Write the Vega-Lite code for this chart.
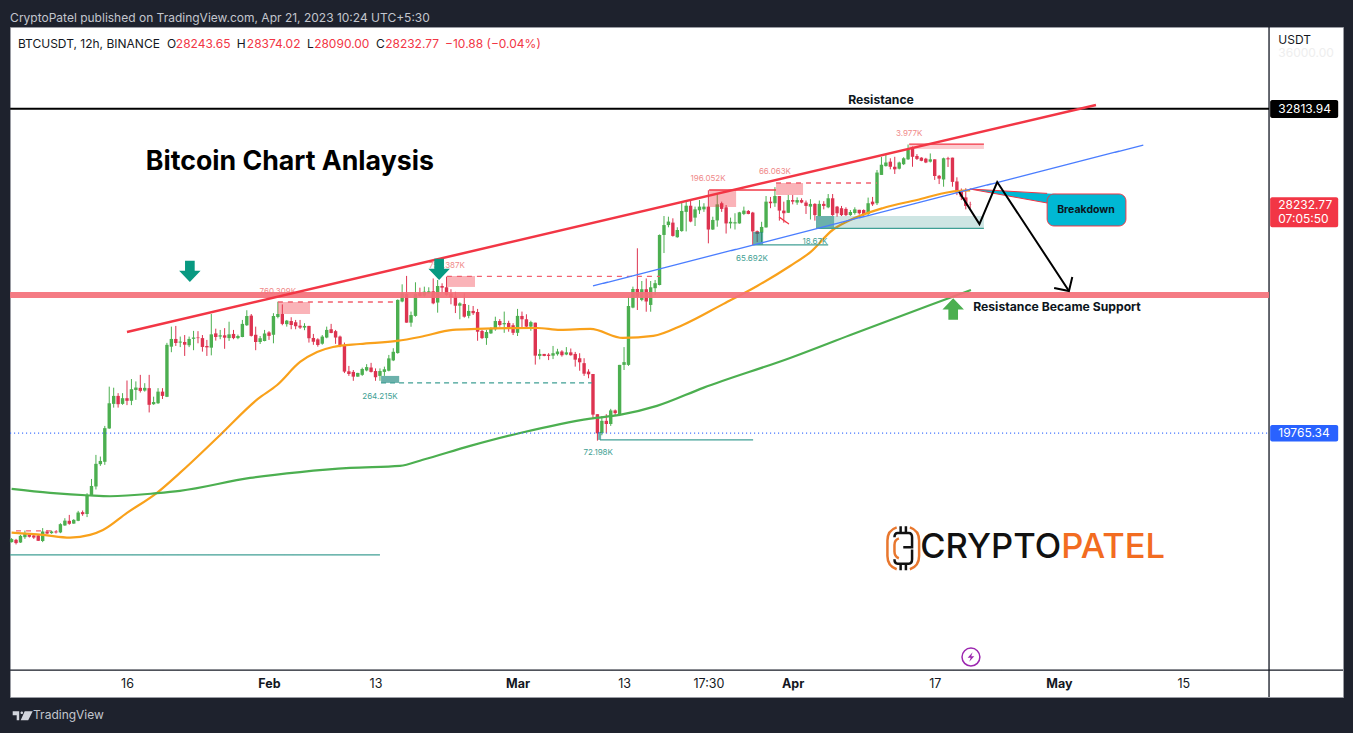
{
  "$schema": "https://vega.github.io/schema/vega-lite/v6.json",
  "description": "BTCUSDT 12h candles with hand drawn TradingView annotations",
  "autosize": {"type": "none"},
  "padding": {"left": 10, "top": 27, "right": 10, "bottom": 36},
  "width": 1333,
  "height": 670,
  "background": "#1e222d",
  "config": {
    "font": "Inter",
    "view": {"fill": "#ffffff", "stroke": "#9a9ca3"},
    "axis": {"grid": false, "domain": false, "ticks": false, "title": null}
  },
  "resolve": {"scale": {"color": "independent", "strokeDash": "independent"}},
  "datasets": {
    "candles": [
      {"t":"2023-01-03T00:00Z","o":16670,"h":16775,"l":16660,"c":16750},
      {"t":"2023-01-03T12:00Z","o":16730,"h":16755,"l":16610,"c":16645},
      {"t":"2023-01-04T00:00Z","o":16660,"h":16860,"l":16650,"c":16835},
      {"t":"2023-01-04T12:00Z","o":16800,"h":16975,"l":16755,"c":16890},
      {"t":"2023-01-05T00:00Z","o":16860,"h":16905,"l":16790,"c":16810},
      {"t":"2023-01-05T12:00Z","o":16845,"h":16880,"l":16755,"c":16790},
      {"t":"2023-01-06T00:00Z","o":16845,"h":16880,"l":16700,"c":16705},
      {"t":"2023-01-06T12:00Z","o":16700,"h":17040,"l":16670,"c":16950},
      {"t":"2023-01-07T00:00Z","o":16950,"h":16990,"l":16880,"c":16895},
      {"t":"2023-01-07T12:00Z","o":16905,"h":16975,"l":16890,"c":16950},
      {"t":"2023-01-08T00:00Z","o":16950,"h":16975,"l":16895,"c":16925},
      {"t":"2023-01-08T12:00Z","o":16925,"h":17170,"l":16905,"c":17145},
      {"t":"2023-01-09T00:00Z","o":17110,"h":17305,"l":17100,"c":17240},
      {"t":"2023-01-09T12:00Z","o":17235,"h":17395,"l":17130,"c":17155},
      {"t":"2023-01-10T00:00Z","o":17160,"h":17280,"l":17155,"c":17260},
      {"t":"2023-01-10T12:00Z","o":17235,"h":17505,"l":17225,"c":17460},
      {"t":"2023-01-11T00:00Z","o":17470,"h":17515,"l":17370,"c":17415},
      {"t":"2023-01-11T12:00Z","o":17420,"h":17995,"l":17335,"c":17920},
      {"t":"2023-01-12T00:00Z","o":17940,"h":18400,"l":17920,"c":18200},
      {"t":"2023-01-12T12:00Z","o":18185,"h":19105,"l":18100,"c":18840},
      {"t":"2023-01-13T00:00Z","o":18830,"h":19055,"l":18780,"c":18925},
      {"t":"2023-01-13T12:00Z","o":18900,"h":19990,"l":18810,"c":19920},
      {"t":"2023-01-14T00:00Z","o":19910,"h":21255,"l":19900,"c":20710},
      {"t":"2023-01-14T12:00Z","o":20690,"h":21220,"l":20570,"c":20950},
      {"t":"2023-01-15T00:00Z","o":20950,"h":21040,"l":20570,"c":20680},
      {"t":"2023-01-15T12:00Z","o":20690,"h":21040,"l":20660,"c":20875},
      {"t":"2023-01-16T00:00Z","o":20875,"h":21460,"l":20650,"c":20790},
      {"t":"2023-01-16T12:00Z","o":20790,"h":21510,"l":20650,"c":21170},
      {"t":"2023-01-17T00:00Z","o":21145,"h":21430,"l":20820,"c":21225},
      {"t":"2023-01-17T12:00Z","o":21215,"h":21650,"l":21060,"c":21115},
      {"t":"2023-01-18T00:00Z","o":21125,"h":21370,"l":21090,"c":21215},
      {"t":"2023-01-18T12:00Z","o":21205,"h":21650,"l":20415,"c":20660},
      {"t":"2023-01-19T00:00Z","o":20680,"h":20925,"l":20660,"c":20750},
      {"t":"2023-01-19T12:00Z","o":20710,"h":21205,"l":20690,"c":21090},
      {"t":"2023-01-20T00:00Z","o":21090,"h":21205,"l":20850,"c":20950},
      {"t":"2023-01-20T12:00Z","o":20920,"h":22760,"l":20910,"c":22690},
      {"t":"2023-01-21T00:00Z","o":22625,"h":23345,"l":22430,"c":22900},
      {"t":"2023-01-21T12:00Z","o":22900,"h":23370,"l":22650,"c":22755},
      {"t":"2023-01-22T00:00Z","o":22770,"h":22985,"l":22610,"c":22805},
      {"t":"2023-01-22T12:00Z","o":22790,"h":23040,"l":22300,"c":22695},
      {"t":"2023-01-23T00:00Z","o":22675,"h":22985,"l":22610,"c":22900},
      {"t":"2023-01-23T12:00Z","o":22905,"h":23190,"l":22500,"c":22950},
      {"t":"2023-01-24T00:00Z","o":22950,"h":23180,"l":22745,"c":22930},
      {"t":"2023-01-24T12:00Z","o":22930,"h":23040,"l":22450,"c":22615},
      {"t":"2023-01-25T00:00Z","o":22650,"h":22865,"l":22300,"c":22600},
      {"t":"2023-01-25T12:00Z","o":22590,"h":23810,"l":22320,"c":23065},
      {"t":"2023-01-26T00:00Z","o":23100,"h":23270,"l":22840,"c":22970},
      {"t":"2023-01-26T12:00Z","o":22985,"h":23225,"l":22890,"c":23030},
      {"t":"2023-01-27T00:00Z","o":23030,"h":23290,"l":22550,"c":22945},
      {"t":"2023-01-27T12:00Z","o":22930,"h":23525,"l":22830,"c":23065},
      {"t":"2023-01-28T00:00Z","o":23080,"h":23225,"l":22890,"c":22930},
      {"t":"2023-01-28T12:00Z","o":22930,"h":23055,"l":22890,"c":23005},
      {"t":"2023-01-29T00:00Z","o":22970,"h":23590,"l":22960,"c":23445},
      {"t":"2023-01-29T12:00Z","o":23395,"h":23950,"l":23370,"c":23735},
      {"t":"2023-01-30T00:00Z","o":23750,"h":23810,"l":22985,"c":23010},
      {"t":"2023-01-30T12:00Z","o":23050,"h":23345,"l":22500,"c":22790},
      {"t":"2023-01-31T00:00Z","o":22790,"h":23005,"l":22720,"c":22925},
      {"t":"2023-01-31T12:00Z","o":22825,"h":23225,"l":22815,"c":23100},
      {"t":"2023-02-01T00:00Z","o":23135,"h":23180,"l":22865,"c":23010},
      {"t":"2023-02-01T12:00Z","o":23050,"h":23840,"l":22745,"c":23735},
      {"t":"2023-02-02T00:00Z","o":23700,"h":24270,"l":23650,"c":23810},
      {"t":"2023-02-02T12:00Z","o":23810,"h":24170,"l":23395,"c":23445},
      {"t":"2023-02-03T00:00Z","o":23435,"h":23590,"l":23345,"c":23565},
      {"t":"2023-02-03T12:00Z","o":23550,"h":23690,"l":23250,"c":23405},
      {"t":"2023-02-04T00:00Z","o":23505,"h":23590,"l":23250,"c":23360},
      {"t":"2023-02-04T12:00Z","o":23380,"h":23590,"l":23260,"c":23310},
      {"t":"2023-02-05T00:00Z","o":23310,"h":23470,"l":23215,"c":23370},
      {"t":"2023-02-05T12:00Z","o":23370,"h":23375,"l":22770,"c":22925},
      {"t":"2023-02-06T00:00Z","o":22935,"h":23080,"l":22690,"c":22800},
      {"t":"2023-02-06T12:00Z","o":22885,"h":22925,"l":22625,"c":22685},
      {"t":"2023-02-07T00:00Z","o":22730,"h":23040,"l":22695,"c":22985},
      {"t":"2023-02-07T12:00Z","o":22950,"h":23345,"l":22925,"c":23225},
      {"t":"2023-02-08T00:00Z","o":23250,"h":23445,"l":23105,"c":23115},
      {"t":"2023-02-08T12:00Z","o":23180,"h":23225,"l":22725,"c":22950},
      {"t":"2023-02-09T00:00Z","o":22985,"h":23020,"l":22605,"c":22650},
      {"t":"2023-02-09T12:00Z","o":22650,"h":22770,"l":21710,"c":21760},
      {"t":"2023-02-10T00:00Z","o":21770,"h":21955,"l":21615,"c":21680},
      {"t":"2023-02-10T12:00Z","o":21750,"h":21815,"l":21450,"c":21590},
      {"t":"2023-02-11T00:00Z","o":21590,"h":21720,"l":21585,"c":21715},
      {"t":"2023-02-11T12:00Z","o":21650,"h":21895,"l":21615,"c":21850},
      {"t":"2023-02-12T00:00Z","o":21800,"h":22015,"l":21770,"c":21915},
      {"t":"2023-02-12T12:00Z","o":21900,"h":22060,"l":21730,"c":21750},
      {"t":"2023-02-13T00:00Z","o":21780,"h":21870,"l":21450,"c":21570},
      {"t":"2023-02-13T12:00Z","o":21615,"h":21870,"l":21450,"c":21780},
      {"t":"2023-02-14T00:00Z","o":21750,"h":21930,"l":21615,"c":21840},
      {"t":"2023-02-14T12:00Z","o":21790,"h":22335,"l":21770,"c":22215},
      {"t":"2023-02-15T00:00Z","o":22145,"h":22570,"l":22120,"c":22445},
      {"t":"2023-02-15T12:00Z","o":22400,"h":24360,"l":22380,"c":24340},
      {"t":"2023-02-16T00:00Z","o":24280,"h":24940,"l":24250,"c":24595},
      {"t":"2023-02-16T12:00Z","o":24565,"h":25270,"l":23490,"c":23490},
      {"t":"2023-02-17T00:00Z","o":23490,"h":23900,"l":23340,"c":23770},
      {"t":"2023-02-17T12:00Z","o":23740,"h":25020,"l":23710,"c":24570},
      {"t":"2023-02-18T00:00Z","o":24620,"h":24810,"l":24465,"c":24490},
      {"t":"2023-02-18T12:00Z","o":24505,"h":24850,"l":24465,"c":24655},
      {"t":"2023-02-19T00:00Z","o":24595,"h":24825,"l":24570,"c":24670},
      {"t":"2023-02-19T12:00Z","o":24670,"h":25170,"l":24175,"c":24210},
      {"t":"2023-02-20T00:00Z","o":24240,"h":25110,"l":23860,"c":24875},
      {"t":"2023-02-20T12:00Z","o":24875,"h":24980,"l":24620,"c":24810},
      {"t":"2023-02-21T00:00Z","o":24825,"h":25240,"l":24500,"c":24530},
      {"t":"2023-02-21T12:00Z","o":24590,"h":24750,"l":24175,"c":24440},
      {"t":"2023-02-22T00:00Z","o":24465,"h":24650,"l":23845,"c":24120},
      {"t":"2023-02-22T12:00Z","o":24120,"h":24250,"l":23615,"c":24210},
      {"t":"2023-02-23T00:00Z","o":24185,"h":24590,"l":23675,"c":23710},
      {"t":"2023-02-23T12:00Z","o":23740,"h":24150,"l":23650,"c":23925},
      {"t":"2023-02-24T00:00Z","o":23925,"h":24110,"l":23775,"c":23840},
      {"t":"2023-02-24T12:00Z","o":23885,"h":24000,"l":22835,"c":23160},
      {"t":"2023-02-25T00:00Z","o":23190,"h":23225,"l":22895,"c":22930},
      {"t":"2023-02-25T12:00Z","o":22930,"h":23225,"l":22690,"c":23150},
      {"t":"2023-02-26T00:00Z","o":23100,"h":23320,"l":23080,"c":23270},
      {"t":"2023-02-26T12:00Z","o":23250,"h":23710,"l":23195,"c":23550},
      {"t":"2023-02-27T00:00Z","o":23550,"h":23620,"l":23345,"c":23405},
      {"t":"2023-02-27T12:00Z","o":23430,"h":23900,"l":23120,"c":23475},
      {"t":"2023-02-28T00:00Z","o":23480,"h":23560,"l":23160,"c":23310},
      {"t":"2023-02-28T12:00Z","o":23395,"h":23470,"l":23040,"c":23120},
      {"t":"2023-03-01T00:00Z","o":23120,"h":24000,"l":23005,"c":23740},
      {"t":"2023-03-01T12:00Z","o":23740,"h":23900,"l":23310,"c":23615},
      {"t":"2023-03-02T00:00Z","o":23615,"h":23800,"l":23320,"c":23345},
      {"t":"2023-03-02T12:00Z","o":23345,"h":23560,"l":23195,"c":23510},
      {"t":"2023-03-03T00:00Z","o":23490,"h":23490,"l":22000,"c":22310},
      {"t":"2023-03-03T12:00Z","o":22300,"h":22535,"l":22180,"c":22370},
      {"t":"2023-03-04T00:00Z","o":22370,"h":22370,"l":22290,"c":22300},
      {"t":"2023-03-04T12:00Z","o":22345,"h":22395,"l":22155,"c":22300},
      {"t":"2023-03-05T00:00Z","o":22310,"h":22650,"l":22190,"c":22395},
      {"t":"2023-03-05T12:00Z","o":22360,"h":22550,"l":22310,"c":22455},
      {"t":"2023-03-06T00:00Z","o":22455,"h":22500,"l":22275,"c":22325},
      {"t":"2023-03-06T12:00Z","o":22350,"h":22610,"l":22325,"c":22425},
      {"t":"2023-03-07T00:00Z","o":22425,"h":22560,"l":22310,"c":22325},
      {"t":"2023-03-07T12:00Z","o":22370,"h":22440,"l":21930,"c":22170},
      {"t":"2023-03-08T00:00Z","o":22220,"h":22395,"l":21790,"c":22080},
      {"t":"2023-03-08T12:00Z","o":22050,"h":22220,"l":21615,"c":21690},
      {"t":"2023-03-09T00:00Z","o":21760,"h":21840,"l":21535,"c":21670},
      {"t":"2023-03-09T12:00Z","o":21680,"h":21680,"l":20230,"c":20345},
      {"t":"2023-03-10T00:00Z","o":20360,"h":20360,"l":19535,"c":19760},
      {"t":"2023-03-10T12:00Z","o":19770,"h":20300,"l":19700,"c":20150},
      {"t":"2023-03-11T00:00Z","o":20150,"h":20360,"l":19760,"c":20050},
      {"t":"2023-03-11T12:00Z","o":20050,"h":20530,"l":19990,"c":20480},
      {"t":"2023-03-12T00:00Z","o":20480,"h":20510,"l":20305,"c":20395},
      {"t":"2023-03-12T12:00Z","o":20365,"h":21990,"l":20300,"c":21990},
      {"t":"2023-03-13T00:00Z","o":21990,"h":22610,"l":21815,"c":22085},
      {"t":"2023-03-13T12:00Z","o":21990,"h":24465,"l":21955,"c":24110},
      {"t":"2023-03-14T00:00Z","o":24050,"h":24850,"l":24025,"c":24760},
      {"t":"2023-03-14T12:00Z","o":24760,"h":26385,"l":23960,"c":24465},
      {"t":"2023-03-15T00:00Z","o":24340,"h":25070,"l":24290,"c":24750},
      {"t":"2023-03-15T12:00Z","o":24750,"h":25170,"l":23895,"c":24280},
      {"t":"2023-03-16T00:00Z","o":24150,"h":25070,"l":23895,"c":24825},
      {"t":"2023-03-16T12:00Z","o":24790,"h":25110,"l":24530,"c":24985},
      {"t":"2023-03-17T00:00Z","o":24915,"h":26960,"l":24900,"c":26940},
      {"t":"2023-03-17T12:00Z","o":26940,"h":27750,"l":26190,"c":27360},
      {"t":"2023-03-18T00:00Z","o":27360,"h":27720,"l":27265,"c":27510},
      {"t":"2023-03-18T12:00Z","o":27465,"h":27650,"l":26870,"c":26900},
      {"t":"2023-03-19T00:00Z","o":26845,"h":27265,"l":26825,"c":27150},
      {"t":"2023-03-19T12:00Z","o":27105,"h":28380,"l":27075,"c":27970},
      {"t":"2023-03-20T00:00Z","o":27930,"h":28430,"l":27090,"c":28200},
      {"t":"2023-03-20T12:00Z","o":28200,"h":28430,"l":27480,"c":27510},
      {"t":"2023-03-21T00:00Z","o":27680,"h":28160,"l":27320,"c":28040},
      {"t":"2023-03-21T12:00Z","o":28000,"h":28450,"l":27840,"c":28160},
      {"t":"2023-03-22T00:00Z","o":28040,"h":28310,"l":27930,"c":28160},
      {"t":"2023-03-22T12:00Z","o":28160,"h":28890,"l":26590,"c":27170},
      {"t":"2023-03-23T00:00Z","o":27170,"h":27720,"l":27150,"c":27580},
      {"t":"2023-03-23T12:00Z","o":27560,"h":28750,"l":27290,"c":28260},
      {"t":"2023-03-24T00:00Z","o":28310,"h":28380,"l":27930,"c":28060},
      {"t":"2023-03-24T12:00Z","o":28130,"h":28230,"l":27000,"c":27430},
      {"t":"2023-03-25T00:00Z","o":27430,"h":27680,"l":27215,"c":27500},
      {"t":"2023-03-25T12:00Z","o":27430,"h":27870,"l":27170,"c":27480},
      {"t":"2023-03-26T00:00Z","o":27430,"h":27930,"l":27420,"c":27910},
      {"t":"2023-03-26T12:00Z","o":27840,"h":28160,"l":27790,"c":27985},
      {"t":"2023-03-27T00:00Z","o":27970,"h":28010,"l":27825,"c":27840},
      {"t":"2023-03-27T12:00Z","o":27900,"h":27930,"l":26520,"c":27090},
      {"t":"2023-03-28T00:00Z","o":27100,"h":27130,"l":26640,"c":26985},
      {"t":"2023-03-28T12:00Z","o":27040,"h":27500,"l":26640,"c":27280},
      {"t":"2023-03-29T00:00Z","o":27260,"h":28630,"l":27250,"c":28380},
      {"t":"2023-03-29T12:00Z","o":28380,"h":28590,"l":28090,"c":28310},
      {"t":"2023-03-30T00:00Z","o":28310,"h":29030,"l":28150,"c":28630},
      {"t":"2023-03-30T12:00Z","o":28630,"h":28630,"l":27550,"c":27985},
      {"t":"2023-03-31T00:00Z","o":27985,"h":28380,"l":27460,"c":27870},
      {"t":"2023-03-31T12:00Z","o":27890,"h":28680,"l":27880,"c":28450},
      {"t":"2023-04-01T00:00Z","o":28450,"h":28680,"l":28260,"c":28380},
      {"t":"2023-04-01T12:00Z","o":28340,"h":28570,"l":28240,"c":28450},
      {"t":"2023-04-02T00:00Z","o":28450,"h":28530,"l":28310,"c":28340},
      {"t":"2023-04-02T12:00Z","o":28340,"h":28430,"l":27840,"c":28190},
      {"t":"2023-04-03T00:00Z","o":28160,"h":28490,"l":27600,"c":28280},
      {"t":"2023-04-03T12:00Z","o":28280,"h":28310,"l":27550,"c":27790},
      {"t":"2023-04-04T00:00Z","o":27750,"h":28430,"l":27740,"c":28280},
      {"t":"2023-04-04T12:00Z","o":28280,"h":28400,"l":28040,"c":28190},
      {"t":"2023-04-05T00:00Z","o":28130,"h":28720,"l":28090,"c":28530},
      {"t":"2023-04-05T12:00Z","o":28530,"h":28720,"l":27755,"c":27790},
      {"t":"2023-04-06T00:00Z","o":28160,"h":28190,"l":27720,"c":27870},
      {"t":"2023-04-06T12:00Z","o":28090,"h":28190,"l":27750,"c":27790},
      {"t":"2023-04-07T00:00Z","o":28060,"h":28130,"l":27750,"c":27790},
      {"t":"2023-04-07T12:00Z","o":27790,"h":28010,"l":27755,"c":27925},
      {"t":"2023-04-08T00:00Z","o":27880,"h":28130,"l":27810,"c":28040},
      {"t":"2023-04-08T12:00Z","o":28020,"h":28020,"l":27810,"c":27870},
      {"t":"2023-04-09T00:00Z","o":28010,"h":28040,"l":27720,"c":27790},
      {"t":"2023-04-09T12:00Z","o":27840,"h":28560,"l":27750,"c":28310},
      {"t":"2023-04-10T00:00Z","o":28380,"h":28590,"l":28190,"c":28260},
      {"t":"2023-04-10T12:00Z","o":28310,"h":29820,"l":28230,"c":29700},
      {"t":"2023-04-11T00:00Z","o":29590,"h":30440,"l":29590,"c":30065},
      {"t":"2023-04-11T12:00Z","o":30000,"h":30540,"l":29980,"c":30170},
      {"t":"2023-04-12T00:00Z","o":30210,"h":30370,"l":29850,"c":29970},
      {"t":"2023-04-12T12:00Z","o":29970,"h":30440,"l":29635,"c":29850},
      {"t":"2023-04-13T00:00Z","o":29880,"h":30210,"l":29845,"c":30170},
      {"t":"2023-04-13T12:00Z","o":30090,"h":30420,"l":30050,"c":30370},
      {"t":"2023-04-14T00:00Z","o":30320,"h":31030,"l":30290,"c":30800},
      {"t":"2023-04-14T12:00Z","o":30850,"h":30930,"l":29970,"c":30440},
      {"t":"2023-04-15T00:00Z","o":30480,"h":30570,"l":30290,"c":30340},
      {"t":"2023-04-15T12:00Z","o":30400,"h":30420,"l":30230,"c":30250},
      {"t":"2023-04-16T00:00Z","o":30350,"h":30390,"l":30140,"c":30170},
      {"t":"2023-04-16T12:00Z","o":30210,"h":30600,"l":30170,"c":30320},
      {"t":"2023-04-17T00:00Z","o":30320,"h":30320,"l":29360,"c":29540},
      {"t":"2023-04-17T12:00Z","o":29550,"h":29590,"l":29170,"c":29420},
      {"t":"2023-04-18T00:00Z","o":29380,"h":30400,"l":29050,"c":30370},
      {"t":"2023-04-18T12:00Z","o":30370,"h":30440,"l":29960,"c":30320},
      {"t":"2023-04-19T00:00Z","o":30400,"h":30400,"l":29050,"c":29270},
      {"t":"2023-04-19T12:00Z","o":29290,"h":29480,"l":28670,"c":28790},
      {"t":"2023-04-20T00:00Z","o":28860,"h":28970,"l":28450,"c":28600},
      {"t":"2023-04-20T12:00Z","o":28570,"h":28980,"l":28040,"c":28190},
      {"t":"2023-04-21T00:00Z","o":28243.65,"h":28374.02,"l":28090,"c":28232.77}
    ],
    "averages": [
      {"s":"ema50","t":"2023-01-03T00:00Z","p":16920},
      {"s":"ema50","t":"2023-01-06T13:00Z","p":16860},
      {"s":"ema50","t":"2023-01-09T14:00Z","p":16790},
      {"s":"ema50","t":"2023-01-11T20:00Z","p":16860},
      {"s":"ema50","t":"2023-01-13T07:00Z","p":16990},
      {"s":"ema50","t":"2023-01-16T00:00Z","p":17450},
      {"s":"ema50","t":"2023-01-19T09:00Z","p":18005},
      {"s":"ema50","t":"2023-01-21T23:00Z","p":18575},
      {"s":"ema50","t":"2023-01-26T12:00Z","p":19710},
      {"s":"ema50","t":"2023-01-30T18:00Z","p":20850},
      {"s":"ema50","t":"2023-02-01T22:00Z","p":21310},
      {"s":"ema50","t":"2023-02-04T12:00Z","p":22090},
      {"s":"ema50","t":"2023-02-06T10:00Z","p":22440},
      {"s":"ema50","t":"2023-02-08T05:00Z","p":22615},
      {"s":"ema50","t":"2023-02-11T06:00Z","p":22720},
      {"s":"ema50","t":"2023-02-15T10:00Z","p":22830},
      {"s":"ema50","t":"2023-02-18T00:00Z","p":22970},
      {"s":"ema50","t":"2023-02-21T17:00Z","p":23225},
      {"s":"ema50","t":"2023-02-24T10:00Z","p":23260},
      {"s":"ema50","t":"2023-03-03T05:00Z","p":23295},
      {"s":"ema50","t":"2023-03-05T19:00Z","p":23225},
      {"s":"ema50","t":"2023-03-09T05:00Z","p":23260},
      {"s":"ema50","t":"2023-03-12T21:00Z","p":22935},
      {"s":"ema50","t":"2023-03-16T07:00Z","p":23007},
      {"s":"ema50","t":"2023-03-19T15:00Z","p":23405},
      {"s":"ema50","t":"2023-03-24T05:00Z","p":24190},
      {"s":"ema50","t":"2023-03-28T00:00Z","p":24876},
      {"s":"ema50","t":"2023-03-31T17:00Z","p":25666},
      {"s":"ema50","t":"2023-04-03T00:00Z","p":26230},
      {"s":"ema50","t":"2023-04-05T12:00Z","p":27150},
      {"s":"ema50","t":"2023-04-07T03:00Z","p":27510},
      {"s":"ema50","t":"2023-04-11T05:00Z","p":28100},
      {"s":"ema50","t":"2023-04-15T00:00Z","p":28455},
      {"s":"ema50","t":"2023-04-18T17:00Z","p":28810},
      {"s":"ema50","t":"2023-04-21T00:00Z","p":28880},
      {"s":"ema200","t":"2023-01-03T00:00Z","p":18117},
      {"s":"ema200","t":"2023-01-07T08:00Z","p":18005},
      {"s":"ema200","t":"2023-01-11T20:00Z","p":17930},
      {"s":"ema200","t":"2023-01-14T02:00Z","p":17910},
      {"s":"ema200","t":"2023-01-19T09:00Z","p":17995},
      {"s":"ema200","t":"2023-01-21T23:00Z","p":18060},
      {"s":"ema200","t":"2023-01-29T21:00Z","p":18430},
      {"s":"ema200","t":"2023-02-04T12:00Z","p":18600},
      {"s":"ema200","t":"2023-02-10T03:00Z","p":18720},
      {"s":"ema200","t":"2023-02-15T18:00Z","p":18780},
      {"s":"ema200","t":"2023-02-18T08:00Z","p":18960},
      {"s":"ema200","t":"2023-02-23T16:00Z","p":19375},
      {"s":"ema200","t":"2023-03-01T07:00Z","p":19770},
      {"s":"ema200","t":"2023-03-09T05:00Z","p":20220},
      {"s":"ema200","t":"2023-03-12T12:00Z","p":20337},
      {"s":"ema200","t":"2023-03-16T17:00Z","p":20625},
      {"s":"ema200","t":"2023-03-21T22:00Z","p":21215},
      {"s":"ema200","t":"2023-03-31T17:00Z","p":22230},
      {"s":"ema200","t":"2023-04-07T12:00Z","p":23043},
      {"s":"ema200","t":"2023-04-16T12:00Z","p":24150},
      {"s":"ema200","t":"2023-04-21T02:00Z","p":24720}
    ],
    "zones": [
      {"kind":"supply","t":"2023-02-02T00:00Z","t2":"2023-02-05T15:00Z","p":24260,"p2":23812},
      {"kind":"supply","t":"2023-02-21T01:00Z","t2":"2023-02-24T05:00Z","p":25268,"p2":24838},
      {"kind":"supply","t":"2023-03-22T14:00Z","t2":"2023-03-25T15:00Z","p":28900,"p2":28144},
      {"kind":"supply","t":"2023-03-30T03:00Z","t2":"2023-04-02T04:00Z","p":29220,"p2":28677},
      {"kind":"supplypale","t":"2023-04-14T03:00Z","t2":"2023-04-22T13:00Z","p":31053,"p2":30813},
      {"kind":"demand","t":"2023-02-13T15:00Z","t2":"2023-02-15T16:00Z","p":21614,"p2":21380},
      {"kind":"demand","t":"2023-03-27T13:00Z","t2":"2023-03-28T16:00Z","p":27067,"p2":26522},
      {"kind":"demand","t":"2023-04-03T15:00Z","t2":"2023-04-05T16:00Z","p":27751,"p2":27236},
      {"kind":"demand","t":"2023-03-10T02:00Z","t2":"2023-03-10T10:00Z","p":19803,"p2":19557},
      {"kind":"demandpale","t":"2023-04-05T16:00Z","t2":"2023-04-22T13:00Z","p":27751,"p2":27236}
    ],
    "segments": [
      {"kind":"lastprice","t":"2023-01-02T20:00Z","t2":"2023-05-24T16:00Z","p":19765.34,"p2":19765.34},
      {"kind":"teal","t":"2023-01-02T20:00Z","t2":"2023-02-13T12:00Z","p":16343,"p2":16343},
      {"kind":"teal","t":"2023-03-10T07:00Z","t2":"2023-03-27T13:00Z","p":19557,"p2":19557},
      {"kind":"teal","t":"2023-03-27T13:00Z","t2":"2023-04-05T00:00Z","p":26522,"p2":26522},
      {"kind":"teal","t":"2023-04-03T15:00Z","t2":"2023-04-22T13:00Z","p":27215,"p2":27215},
      {"kind":"tealdash","t":"2023-02-13T15:00Z","t2":"2023-03-09T09:00Z","p":21380,"p2":21380},
      {"kind":"reddash","t":"2023-01-03T12:00Z","t2":"2023-01-08T03:00Z","p":16965,"p2":16965},
      {"kind":"reddash","t":"2023-02-02T00:00Z","t2":"2023-02-15T05:00Z","p":24260,"p2":24260},
      {"kind":"reddash","t":"2023-02-21T01:00Z","t2":"2023-03-17T01:00Z","p":25250,"p2":25250},
      {"kind":"reddash","t":"2023-03-30T03:00Z","t2":"2023-04-10T12:00Z","p":29220,"p2":29220},
      {"kind":"red","t":"2023-03-22T14:00Z","t2":"2023-03-30T03:00Z","p":28900,"p2":28900},
      {"kind":"red","t":"2023-04-14T03:00Z","t2":"2023-04-22T13:00Z","p":31053,"p2":31053},
      {"kind":"red","t":"2023-03-30T11:00Z","t2":"2023-03-31T14:00Z","p":27708,"p2":27404},
      {"kind":"trend","t":"2023-03-09T12:00Z","t2":"2023-05-10T12:00Z","p":24876,"p2":31005},
      {"kind":"frame","t":"2023-05-24T16:00Z","t2":"2023-05-24T16:00Z","p":37285,"p2":13087},
      {"kind":"frame","t":"2023-01-02T20:00Z","t2":"2023-06-02T00:00Z","p":13650,"p2":13650}
    ],
    "levels": [
      {"kind":"support","t":"2023-01-02T20:00Z","t2":"2023-05-24T16:00Z","p":24530,"p2":24530},
      {"kind":"level","t":"2023-01-02T20:00Z","t2":"2023-05-24T16:00Z","p":32813.94,"p2":32813.94},
      {"kind":"resistance","t":"2023-01-16T00:00Z","t2":"2023-05-05T04:00Z","p":23150,"p2":33006}
    ],
    "zigzag": [
      {"g":"path","n":0,"t":"2023-04-19T18:00Z","p":28810},
      {"g":"path","n":1,"t":"2023-04-22T01:00Z","p":27404},
      {"g":"path","n":2,"t":"2023-04-24T01:00Z","p":29265},
      {"g":"path","n":3,"t":"2023-05-02T03:00Z","p":24683},
      {"g":"head","n":0,"t":"2023-04-30T11:00Z","p":24798},
      {"g":"head","n":1,"t":"2023-05-02T03:00Z","p":24683},
      {"g":"head","n":2,"t":"2023-05-02T12:00Z","p":25229}
    ]
  },
  "encoding": {
    "x": {
      "field": "t",
      "type": "temporal",
      "scale": {
        "type": "utc",
        "padding": 0,
        "domain": [
          {"year": 2023, "month": 1, "date": 2, "hours": 19, "minutes": 40, "utc": true},
          {"year": 2023, "month": 6, "date": 2, "utc": true}
        ]
      },
      "axis": {
        "orient": "bottom",
        "offset": -27,
        "values": [
          {"year": 2023, "month": 1, "date": 16, "utc": true},
          {"year": 2023, "month": 2, "date": 1, "utc": true},
          {"year": 2023, "month": 2, "date": 13, "utc": true},
          {"year": 2023, "month": 3, "date": 1, "utc": true},
          {"year": 2023, "month": 3, "date": 13, "utc": true},
          {"year": 2023, "month": 3, "date": 22, "hours": 12, "utc": true},
          {"year": 2023, "month": 4, "date": 1, "utc": true},
          {"year": 2023, "month": 4, "date": 17, "utc": true},
          {"year": 2023, "month": 5, "date": 1, "utc": true},
          {"year": 2023, "month": 5, "date": 15, "utc": true}
        ],
        "labelExpr": "utchours(datum.value)==12 ? '17:30' : (utcdate(datum.value)==1 ? utcFormat(datum.value,'%b') : utcFormat(datum.value,'%-d'))",
        "labelFontWeight": {"condition": {"test": "utcdate(datum.value)==1", "value": "bold"}, "value": "normal"},
        "labelFontSize": 12.5,
        "labelColor": "#131722",
        "labelPadding": 7,
        "labelOverlap": false
      }
    },
    "y": {
      "field": "p",
      "type": "quantitative",
      "scale": {"type": "log", "domain": [13087, 37285], "nice": false, "zero": false},
      "axis": {
        "orient": "right",
        "offset": -74,
        "values": [34000, 32000, 30000, 26000, 24000, 22500, 21000, 18600, 17600, 16600, 15800, 15000, 14300],
        "format": ".2f",
        "labelFontSize": 12.5,
        "labelColor": "#131722",
        "labelPadding": 10,
        "labelOverlap": false
      }
    }
  },
  "layer": [
    {
      "data": {"name": "candles"},
      "mark": {"type": "rule", "strokeWidth": 1},
      "encoding": {
        "y": {"field": "h", "type": "quantitative", "scale": {"type": "log", "domain": [13087, 37285], "nice": false, "zero": false}, "axis": null},
        "y2": {"field": "l"},
        "color": {"condition": {"test": "datum.c>=datum.o", "value": "#4caf50"}, "value": "#dd3350"}
      }
    },
    {
      "data": {"name": "candles"},
      "mark": {"type": "bar", "size": 3.4},
      "encoding": {
        "y": {"field": "o", "type": "quantitative", "scale": {"type": "log", "domain": [13087, 37285], "nice": false, "zero": false}, "axis": null},
        "y2": {"field": "c"},
        "color": {"condition": {"test": "datum.c>=datum.o", "value": "#4caf50"}, "value": "#dd3350"}
      }
    },
    {
      "data": {"name": "averages"},
      "mark": {"type": "line", "strokeWidth": 2.2, "interpolate": "monotone"},
      "encoding": {
        "color": {"field": "s", "scale": {"domain": ["ema50", "ema200"], "range": ["#f9a11b", "#4caf50"]}, "legend": null}
      }
    },
    {
      "data": {"values": [
        {"label":"760.309K","t":"2023-02-02T00:00Z","p":24645,"side":"supply"},
        {"label":"750.387K","t":"2023-02-21T01:00Z","p":25666,"side":"supply"},
        {"label":"196.052K","t":"2023-03-22T11:00Z","p":29403,"side":"supply"},
        {"label":"66.063K","t":"2023-03-30T00:00Z","p":29727,"side":"supply"},
        {"label":"3.977K","t":"2023-04-14T03:00Z","p":31540,"side":"supply"},
        {"label":"264.215K","t":"2023-02-13T12:00Z","p":20916,"side":"demand"},
        {"label":"72.198K","t":"2023-03-10T02:00Z","p":19165,"side":"demand"},
        {"label":"65.692K","t":"2023-03-27T10:00Z","p":25949,"side":"demand"},
        {"label":"18.67K","t":"2023-04-03T12:00Z","p":26647,"side":"demand"}
      ]},
      "mark": {"type": "text", "fontSize": 8, "align": "center", "baseline": "middle"},
      "encoding": {
        "text": {"field": "label"},
        "color": {"field": "side", "scale": {"domain": ["supply", "demand"], "range": ["#f08a8a", "#3f9f94"]}, "legend": null}
      }
    },
    {
      "data": {"name": "zones"},
      "mark": {"type": "rect"},
      "encoding": {
        "x2": {"field": "t2"},
        "y2": {"field": "p2"},
        "color": {"field": "kind", "scale": {"domain": ["supply", "supplypale", "demand", "demandpale"], "range": ["rgba(242,54,69,0.38)", "rgba(242,54,69,0.25)", "rgba(8,125,115,0.6)", "rgba(8,125,115,0.2)"]}, "legend": null}
      }
    },
    {
      "data": {"values": [
        {"t":"2023-04-20T23:00Z","p":28945,"p2":28945},
        {"t":"2023-04-29T16:00Z","p":28749,"p2":28320},
        {"t":"2023-04-30T19:00Z","p":28722,"p2":28320}
      ]},
      "mark": {"type": "area", "color": "#00b8d4"},
      "encoding": {"y2": {"field": "p2"}}
    },
    {
      "data": {"values": [
        {"t":"2023-04-20T23:00Z","t2":"2023-04-29T16:00Z","p":28945,"p2":28749},
        {"t":"2023-04-20T23:00Z","t2":"2023-04-29T16:00Z","p":28945,"p2":28320}
      ]},
      "mark": {"type": "rule", "color": "#f23645", "strokeWidth": 1},
      "encoding": {"x2": {"field": "t2"}, "y2": {"field": "p2"}}
    },
    {
      "data": {"values": [{"t":"2023-04-29T16:00Z","t2":"2023-05-08T13:00Z","p":28722,"p2":27321}]},
      "mark": {"type": "rect", "color": "#00b8d4", "stroke": "#f23645", "strokeWidth": 1, "cornerRadius": 7},
      "encoding": {"x2": {"field": "t2"}, "y2": {"field": "p2"}}
    },
    {
      "data": {"name": "segments"},
      "mark": {"type": "rule", "strokeWidth": 1.3},
      "encoding": {
        "x2": {"field": "t2"},
        "y2": {"field": "p2"},
        "color": {"field": "kind", "scale": {"domain": ["lastprice", "teal", "tealdash", "reddash", "red", "trend", "frame"], "range": ["#2962ff", "#3f9f94", "#3f9f94", "#f2606f", "#f23645", "#4a7dff", "#131722"]}, "legend": null},
        "strokeDash": {"field": "kind", "scale": {"domain": ["lastprice", "teal", "tealdash", "reddash", "red", "trend", "frame"], "range": [[1, 3], [1, 0], [5, 4], [5, 5], [1, 0], [1, 0], [1, 0]]}, "legend": null}
      }
    },
    {
      "data": {"name": "levels"},
      "transform": [{"filter": "datum.kind=='support'"}],
      "mark": {"type": "rule", "strokeWidth": 6, "color": "#f4707a", "opacity": 0.92},
      "encoding": {"x2": {"field": "t2"}, "y2": {"field": "p2"}}
    },
    {
      "data": {"name": "levels"},
      "transform": [{"filter": "datum.kind=='level'"}],
      "mark": {"type": "rule", "strokeWidth": 2, "color": "#000000"},
      "encoding": {"x2": {"field": "t2"}, "y2": {"field": "p2"}}
    },
    {
      "data": {"name": "levels"},
      "transform": [{"filter": "datum.kind=='resistance'"}],
      "mark": {"type": "rule", "strokeWidth": 2.5, "color": "#f23645"},
      "encoding": {"x2": {"field": "t2"}, "y2": {"field": "p2"}}
    },
    {
      "data": {"name": "zigzag"},
      "mark": {"type": "line", "color": "#000000", "strokeWidth": 2},
      "encoding": {
        "detail": {"field": "g"},
        "order": {"field": "n", "type": "quantitative"}
      }
    },
    {
      "data": {"values": [
        {"t":"2023-01-23T02:00Z","p":25450},
        {"t":"2023-02-20T04:00Z","p":25530}
      ]},
      "mark": {"type": "point", "shape": "M-0.45,-1L0.45,-1L0.45,-0.05L1,-0.05L0,1L-1,-0.05L-0.45,-0.05Z", "filled": true, "size": 460, "color": "#089981", "opacity": 1}
    },
    {
      "data": {"values": [{"t":"2023-04-19T02:00Z","p":24000}]},
      "mark": {"type": "point", "shape": "M-0.45,1L0.45,1L0.45,0.05L1,0.05L0,-1L-1,0.05L-0.45,0.05Z", "filled": true, "size": 460, "color": "#4caf50", "opacity": 1}
    },
    {
      "data": {"values": [{"t":"2023-04-21T02:00Z","p":13930}]},
      "mark": {"type": "point", "shape": "circle", "filled": false, "size": 320, "stroke": "#9c27b0", "strokeWidth": 1.5, "opacity": 1}
    },
    {
      "data": {"values": [{"t":"2023-04-21T02:00Z","p":13930}]},
      "mark": {"type": "point", "shape": "M0.35,-1L-0.7,0.15L-0.05,0.15L-0.35,1L0.7,-0.15L0.05,-0.15Z", "filled": true, "size": 90, "color": "#9c27b0", "opacity": 1}
    },
    {
      "data": {"values": [{"t":"2023-04-13T11:00Z","p":16510}]},
      "mark": {"type": "point", "shape": "M-0.3,-0.95C-0.6,-0.85 -0.72,-0.6 -0.72,-0.35L-0.72,0.35C-0.72,0.6 -0.6,0.85 -0.3,0.95M0.3,-0.95C0.6,-0.85 0.72,-0.6 0.72,-0.35L0.72,0.35C0.72,0.6 0.6,0.85 0.3,0.95M-0.2,-0.45C-0.35,-0.4 -0.4,-0.25 -0.4,-0.15L-0.4,0.15C-0.4,0.3 -0.35,0.4 -0.2,0.45", "filled": false, "size": 1936, "stroke": "#e8772e", "strokeWidth": 2.5, "opacity": 1}
    },
    {
      "data": {"values": [{"t":"2023-04-13T11:00Z","p":16510}]},
      "mark": {"type": "point", "shape": "M-0.12,-1L-0.12,-0.7M0.12,-1L0.12,-0.7M-0.12,1L-0.12,0.7M0.12,1L0.12,0.7M-0.25,-0.7L0.25,-0.7Q0.4,-0.7 0.4,-0.5L0.4,-0.05L0,-0.05M0.4,0.05L0.4,0.5Q0.4,0.7 0.25,0.7L-0.25,0.7Q-0.4,0.7 -0.4,0.5M-0.25,-0.7Q-0.4,-0.7 -0.4,-0.5", "filled": false, "size": 1936, "stroke": "#111111", "strokeWidth": 2.5, "opacity": 1}
    },
    {
      "data": {"values": [{"t":"2023-01-04T06:00Z","p":12710}]},
      "mark": {"type": "point", "shape": "M-1,-0.45L-0.35,-0.45L-0.35,0.45L-0.6,0.45L-0.6,-0.05L-1,-0.05ZM0.2,-0.45L1,-0.45L0.55,0.45L-0.2,0.45ZM-0.22,-0.3A0.13,0.13 0 1 0 0.04,-0.3A0.13,0.13 0 1 0 -0.22,-0.3Z", "filled": true, "size": 400, "color": "#d1d4dc", "opacity": 1}
    },
    {
      "data": {"values": [
        {"t":"2023-05-24T19:00Z","t2":"2023-06-01T11:00Z","p":33264,"p2":32340,"tag":"level"},
        {"t":"2023-05-24T19:00Z","t2":"2023-06-01T11:00Z","p":28575,"p2":27265,"tag":"close"},
        {"t":"2023-05-24T19:00Z","t2":"2023-06-01T11:00Z","p":20020,"p2":19510,"tag":"prior"}
      ]},
      "mark": {"type": "rect", "cornerRadius": 2},
      "encoding": {
        "x2": {"field": "t2"},
        "y2": {"field": "p2"},
        "color": {"field": "tag", "scale": {"domain": ["level", "close", "prior"], "range": ["#000000", "#f23645", "#2962ff"]}, "legend": null}
      }
    },
    {
      "data": {"values": [
        {"label":"CryptoPatel published on TradingView.com, Apr 21, 2023 10:24 UTC+5:30","t":"2023-01-02T20:00Z","p":37811,"tone":"onDark"},
        {"label":"BTCUSDT, 12h, BINANCE","t":"2023-01-03T17:00Z","p":36280,"tone":"ink"},
        {"label":"O","t":"2023-01-20T12:00Z","p":36280,"tone":"ink"},
        {"label":"28243.65","t":"2023-01-21T12:00Z","p":36280,"tone":"down"},
        {"label":"H","t":"2023-01-28T09:00Z","p":36280,"tone":"ink"},
        {"label":"28374.02","t":"2023-01-29T12:00Z","p":36280,"tone":"down"},
        {"label":"L","t":"2023-02-05T07:00Z","p":36280,"tone":"ink"},
        {"label":"28090.00","t":"2023-02-06T02:00Z","p":36280,"tone":"down"},
        {"label":"C","t":"2023-02-13T01:00Z","p":36280,"tone":"ink"},
        {"label":"28232.77","t":"2023-02-14T02:00Z","p":36280,"tone":"down"},
        {"label":"−10.88 (−0.04%)","t":"2023-02-20T20:00Z","p":36280,"tone":"down"},
        {"label":"TradingView","t":"2023-01-05T10:00Z","p":12727,"tone":"onDark"},
        {"label":"USDT","t":"2023-05-25T17:00Z","p":36533,"tone":"ink"},
        {"label":"36000.00","t":"2023-05-25T17:00Z","p":35800,"tone":"faint"},
        {"label":"32813.94","t":"2023-05-25T17:00Z","p":32800,"tone":"white"},
        {"label":"28232.77","t":"2023-05-25T17:00Z","p":28232.77,"tone":"white"},
        {"label":"07:05:50","t":"2023-05-25T17:00Z","p":27620,"tone":"white"},
        {"label":"19765.34","t":"2023-05-25T17:00Z","p":19765.34,"tone":"white"}
      ]},
      "mark": {"type": "text", "fontSize": 12, "align": "left", "baseline": "middle"},
      "encoding": {
        "text": {"field": "label"},
        "color": {"field": "tone", "scale": {"domain": ["onDark", "ink", "down", "faint", "white"], "range": ["#c3c6ce", "#131722", "#f23645", "#eeeeee", "#ffffff"]}, "legend": null}
      }
    },
    {
      "data": {"values": [{"label":"Bitcoin Chart Anlaysis","t":"2023-01-18T03:00Z","p":30193}]},
      "mark": {"type": "text", "fontSize": 26.7, "fontWeight": "bold", "align": "left", "baseline": "middle", "color": "#000000"},
      "encoding": {"text": {"field": "label"}}
    },
    {
      "data": {"values": [{"label":"Breakdown","t":"2023-05-04T01:00Z","p":28013}]},
      "mark": {"type": "text", "fontSize": 10.5, "fontWeight": "bold", "align": "center", "baseline": "middle", "color": "#0d1620"},
      "encoding": {"text": {"field": "label"}}
    },
    {
      "data": {"values": [
        {"label":"Resistance Became Support","t":"2023-04-21T08:00Z","p":24073},
        {"label":"Resistance","t":"2023-04-07T06:00Z","p":33264}
      ]},
      "mark": {"type": "text", "fontSize": 12.2, "fontWeight": "bold", "align": "left", "baseline": "middle", "color": "#0d1620"},
      "encoding": {"text": {"field": "label"}}
    },
    {
      "data": {"values": [
        {"label":"CRYPTO","t":"2023-04-15T09:00Z","p":16523,"part":"dark"},
        {"label":"PATEL","t":"2023-05-01T06:00Z","p":16523,"part":"orange"}
      ]},
      "mark": {"type": "text", "fontSize": 34.5, "fontWeight": 500, "align": "left", "baseline": "middle"},
      "encoding": {
        "text": {"field": "label"},
        "color": {"field": "part", "scale": {"domain": ["dark", "orange"], "range": ["#111111", "#f26c21"]}, "legend": null}
      }
    }
  ]
}
